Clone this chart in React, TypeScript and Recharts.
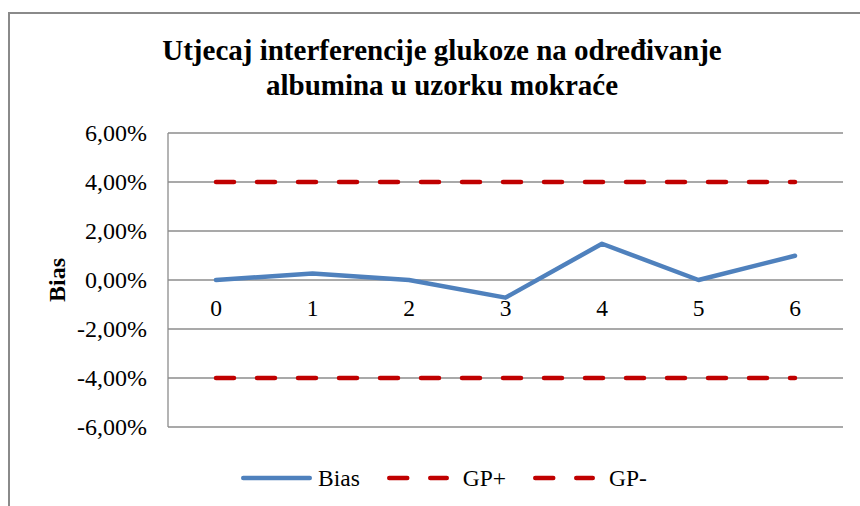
import { LineChart, Line, XAxis, YAxis, CartesianGrid, Legend } from 'recharts';

const categories = ['0', '1', '2', '3', '4', '5', '6'];
const biasValues = [0, 0.0027, 0, -0.0072, 0.0148, 0, 0.0099];
const gpPlus = [0.04, 0.04, 0.04, 0.04, 0.04, 0.04, 0.04];
const gpMinus = [-0.04, -0.04, -0.04, -0.04, -0.04, -0.04, -0.04];
const yTicks = [-0.06, -0.04, -0.02, 0, 0.02, 0.04, 0.06];

const FONT = '"Liberation Serif", "Times New Roman", serif';
const GRID = '#8c8c8c';
const BLUE = '#4F81BD';
const RED = '#C00000';

const data = categories.map((c, i) => ({
  cat: c,
  bias: biasValues[i],
  gpPlus: gpPlus[i],
  gpMinus: gpMinus[i],
}));

// 0,05 -> "5,00%"
const formatPct = (v: number) => (v * 100).toFixed(2).replace('.', ',') + '%';

// x labels sit right under the zero line, like Excel's axis crossing at 0
const XTick = (props: any) => {
  const { x, y, payload } = props;
  return (
    <text x={x} y={y - 111} textAnchor="middle" style={{ fontFamily: FONT, fontSize: 23.5 }} fill="#000">
      {payload.value}
    </text>
  );
};

const YTick = (props: any) => {
  const { x, y, payload } = props;
  return (
    <text x={x} y={y} dy={8} textAnchor="end" style={{ fontFamily: FONT, fontSize: 24 }} fill="#000">
      {formatPct(payload.value)}
    </text>
  );
};

const YLabel = (props: any) => {
  const vb = props.viewBox || { x: 0, y: 0, height: 0 };
  const cx = 47;
  const cy = vb.y + vb.height / 2;
  return (
    <text
      x={cx}
      y={cy}
      transform={`rotate(-90 ${cx} ${cy})`}
      textAnchor="middle"
      dominantBaseline="central"
      style={{ fontFamily: FONT, fontWeight: 'bold', fontSize: 24 }}
      fill="#000"
    >
      Bias
    </text>
  );
};

const LegendContent = (props: any) => {
  const items = props.payload || [];
  return (
    <div style={{ display: 'flex', alignItems: 'center', height: 30, paddingLeft: 231, fontFamily: FONT, fontSize: 23.5, color: '#000' }}>
      {items.map((item: any, i: number) => {
        const dashed = item.payload && item.payload.strokeDasharray;
        const w = dashed ? 62 : 71;
        return (
          <div key={i} style={{ display: 'flex', alignItems: 'center', marginRight: 27 }}>
            <svg width={w} height={10} style={{ marginRight: 6 + (dashed ? 8 : 0) }}>
              <line
                x1={2.25}
                y1={5}
                x2={dashed ? 59.75 : w - 2.25}
                y2={5}
                stroke={item.color}
                strokeWidth={4.5}
                strokeLinecap="round"
                strokeDasharray={dashed || undefined}
              />
            </svg>
            <span style={{ lineHeight: '30px' }}>{item.value}</span>
          </div>
        );
      })}
    </div>
  );
};

export default function App() {
  return (
    <div
      style={{
        position: 'absolute',
        left: 8,
        top: 12,
        width: 852,
        height: 494,
        boxSizing: 'border-box',
        borderTop: '2px solid #8a8a8a',
        borderLeft: '2px solid #8a8a8a',
        background: '#fff',
        fontFamily: FONT,
      }}
    >
      <div
        style={{
          position: 'absolute',
          left: 122,
          top: 19,
          width: 620,
          textAlign: 'center',
          fontFamily: FONT,
          fontWeight: 'bold',
          fontSize: 29,
          lineHeight: '35px',
          color: '#000',
        }}
      >
        Utjecaj interferencije glukoze na određivanje
        <br />
        albumina u uzorku mokraće
      </div>
      <LineChart width={850} height={492} data={data} margin={{ top: 119, right: 17, left: 0, bottom: 49 }}>
        <CartesianGrid vertical={false} stroke={GRID} strokeWidth={1.3} />
        <XAxis
          dataKey="cat"
          axisLine={false}
          tickLine={false}
          tickSize={0}
          tickMargin={0}
          height={30}
          padding={{ left: 48, right: 48 }}
          tick={<XTick />}
          interval={0}
        />
        <YAxis
          width={158}
          domain={[-0.06, 0.06]}
          ticks={yTicks}
          axisLine={{ stroke: GRID, strokeWidth: 1.3 }}
          tickLine={false}
          tickSize={0}
          tickMargin={21}
          tick={<YTick />}
          label={YLabel}
        />
        <Line
          dataKey="bias"
          name="Bias"
          stroke={BLUE}
          strokeWidth={4.5}
          strokeLinecap="round"
          strokeLinejoin="round"
          dot={false}
          activeDot={false}
          isAnimationActive={false}
        />
        <Line
          dataKey="gpPlus"
          name="GP+"
          stroke={RED}
          strokeWidth={4.5}
          strokeLinecap="round"
          strokeDasharray="18 23"
          dot={false}
          activeDot={false}
          isAnimationActive={false}
        />
        <Line
          dataKey="gpMinus"
          name="GP-"
          stroke={RED}
          strokeWidth={4.5}
          strokeLinecap="round"
          strokeDasharray="18 23"
          dot={false}
          activeDot={false}
          isAnimationActive={false}
        />
        <Legend
          verticalAlign="middle"
          layout="horizontal"
          content={<LegendContent />}
          wrapperStyle={{ top: 449, left: 0, width: 850, height: 30 }}
        />
      </LineChart>
    </div>
  );
}
